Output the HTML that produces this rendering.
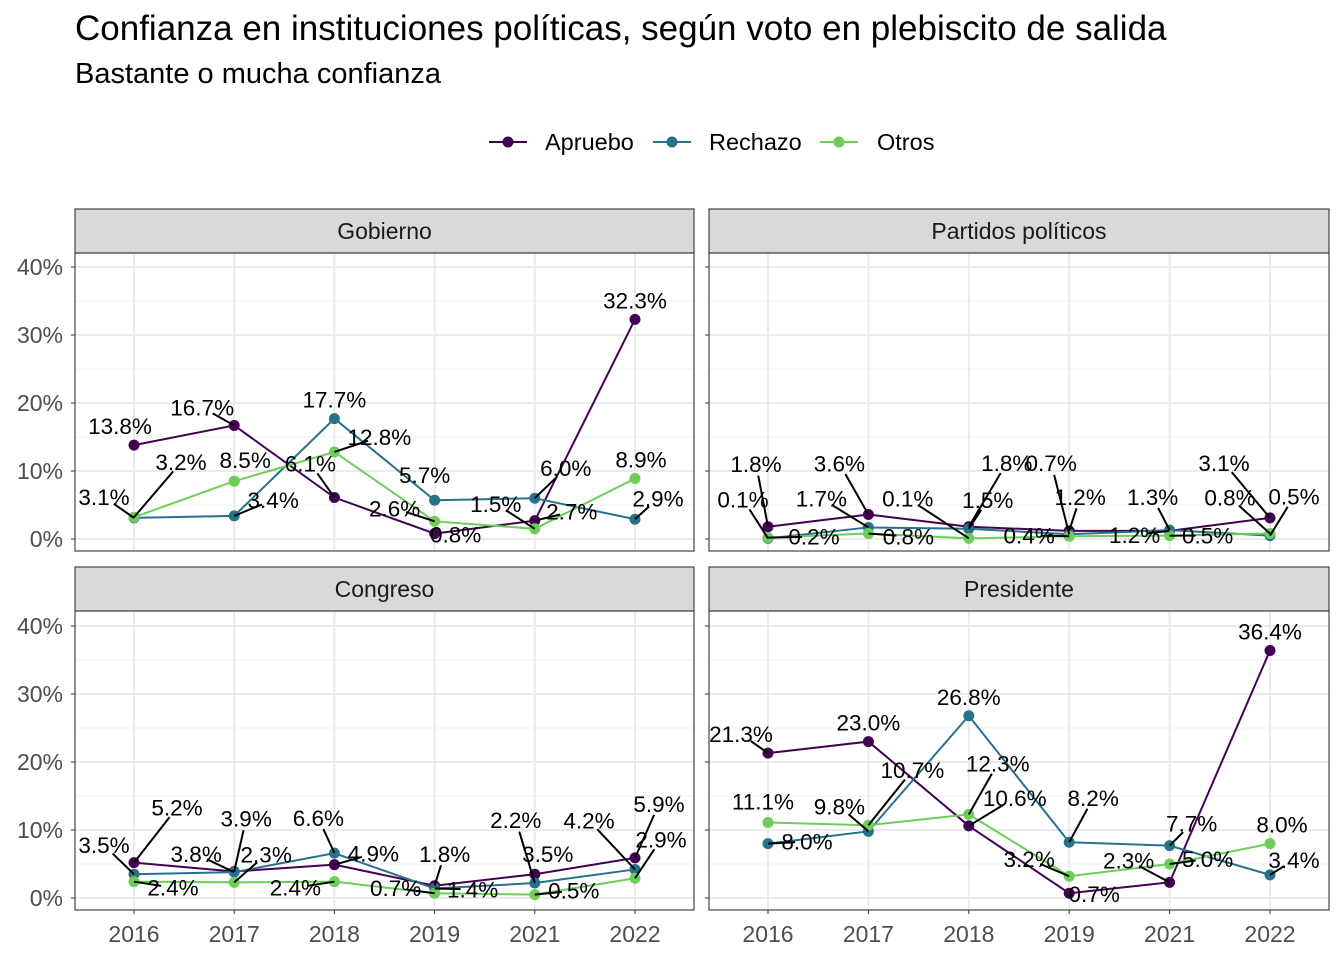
<!DOCTYPE html>
<html><head><meta charset="utf-8"><style>
body{margin:0;background:#fff;}
svg text{font-family:"Liberation Sans",Arial,sans-serif;}
</style></head><body>
<svg id="c" width="1344" height="960" xmlns="http://www.w3.org/2000/svg">
<text x="75" y="40" font-size="35" fill="#000">Confianza en instituciones políticas, según voto en plebiscito de salida</text>
<text x="75" y="83" font-size="29" fill="#000">Bastante o mucha confianza</text>
<g>
<g><line x1="489" y1="142" x2="527" y2="142" stroke="#440154" stroke-width="2"/><circle cx="508" cy="142" r="5.5" fill="#440154"/><text x="545" y="150" font-size="23.5">Apruebo</text></g>
<g><line x1="653" y1="142" x2="691" y2="142" stroke="#27728a" stroke-width="2"/><circle cx="672" cy="142" r="5.5" fill="#27728a"/><text x="709" y="150" font-size="23.5">Rechazo</text></g>
<g><line x1="820" y1="142" x2="858" y2="142" stroke="#6cce59" stroke-width="2"/><circle cx="839" cy="142" r="5.5" fill="#6cce59"/><text x="877" y="150" font-size="23.5">Otros</text></g>
</g>
</svg>
<script>
const years=['2016','2017','2018','2019','2021','2022'];
const yTicks=[0,10,20,30,40];
const panelNames=['Gobierno','Partidos políticos','Congreso','Presidente'];
const seriesNames=['Apruebo','Rechazo','Otros'];
const gobApruebo=[13.8,16.7,6.1,0.8,2.7,32.3];
const gobRechazo=[3.1,3.4,17.7,5.7,6.0,2.9];
const gobOtros=[3.2,8.5,12.8,2.6,1.5,8.9];
const parApruebo=[1.8,3.6,1.8,1.2,1.2,3.1];
const parRechazo=[0.1,1.7,1.5,0.7,1.3,0.5];
const parOtros=[0.2,0.8,0.1,0.4,0.5,0.8];
const conApruebo=[5.2,3.9,4.9,1.8,3.5,5.9];
const conRechazo=[3.5,3.8,6.6,1.4,2.2,4.2];
const conOtros=[2.4,2.3,2.4,0.7,0.5,2.9];
const preApruebo=[21.3,23.0,10.6,0.7,2.3,36.4];
const preRechazo=[8.0,9.8,26.8,8.2,7.7,3.4];
const preOtros=[11.1,10.7,12.3,3.2,5.0,8.0];

const data=[[gobApruebo,gobRechazo,gobOtros],[parApruebo,parRechazo,parOtros],[conApruebo,conRechazo,conOtros],[preApruebo,preRechazo,preOtros]];
const colors=['#440154','#27728a','#6cce59'];
const offs=[
[[[-14,-19],[-32,-18],[-24,-34],[21,1],[37,-9],[0,-19]],
 [[-30,-21],[39,-16],[0,-19],[-10,-25],[31,-30],[23,-21]],
 [[47,-55],[11,-21],[45,-15],[-40,-13],[-39,-25],[6,-19]]],
[[[-12,-63],[-29,-51],[38,-64],[11,-34],[-35,4],[-46,-55]],
 [[-25,-39],[-47,-29],[19,-29],[-18,-71],[-17,-33],[24,-39]],
 [[46,-1],[40,3],[-61,-40],[-40,-1],[38,0],[-40,-36]]],
[[[43,-55],[12,-53],[39,-11],[10,-32],[13,-20],[24,-54]],
 [[-30,-29],[-38,-18],[-16,-35],[38,1],[-19,-63],[-46,-49]],
 [[39,6],[32,-28],[-39,6],[-39,-5],[39,-4],[26,-39]]],
[[[-27,-19],[0,-19],[46,-28],[25,1],[-41,-22],[0,-19]],
 [[39,-2],[-29,-25],[0,-19],[24,-44],[22,-22],[24,-15]],
 [[-5,-21],[44,-55],[29,-51],[-40,-17],[38,-5],[12,-19]]]
];
const panels=[{x0:75,x1:694,sy:209,py0:253,py1:551},{x0:709,x1:1329,sy:209,py0:253,py1:551},
{x0:75,x1:694,sy:567,py0:611,py1:910},{x0:709,x1:1329,sy:567,py0:611,py1:910}];
const svg=document.getElementById('c');
const NS='http://www.w3.org/2000/svg';
function mk(t,a,p){const e=document.createElementNS(NS,t);for(const k in a)e.setAttribute(k,a[k]);(p||svg).appendChild(e);return e;}
panels.forEach((p,pi)=>{
 const g=mk('g',{});
 
 
 const xs=i=>p.x0+59+i*(p.x1-p.x0-118)/(years.length-1);
 const ys=v=>p.py1-12-v*6.8;
 const st=mk('rect',{x:p.x0,y:p.sy,width:p.x1-p.x0,height:p.py0-p.sy,fill:'#d9d9d9',stroke:'#333','stroke-width':1.1},g);
 
 
 const stt=mk('text',{x:(p.x0+p.x1)/2,y:(p.sy+p.py0)/2+8,'font-size':23,fill:'#1a1a1a','text-anchor':'middle'},g);
 stt.textContent=panelNames[pi];
 
 
 for(let v=5;v<=35;v+=10)mk('line',{x1:p.x0,x2:p.x1,y1:ys(v),y2:ys(v),stroke:'#f2f2f2','stroke-width':1},g);
 yTicks.forEach(v=>{mk('line',{x1:p.x0,x2:p.x1,y1:ys(v),y2:ys(v),stroke:'#ebebeb','stroke-width':2},g);
  mk('line',{x1:p.x0-4,x2:p.x0,y1:ys(v),y2:ys(v),stroke:'#333','stroke-width':1},g);
  if(p.x0<100){const t=mk('text',{x:p.x0-12,y:ys(v)+8,'font-size':23,fill:'#4d4d4d','text-anchor':'end'},g);t.textContent=v+'%';
  
  }
 });
 years.forEach((y,i)=>{mk('line',{x1:xs(i),x2:xs(i),y1:p.py0,y2:p.py1,stroke:'#ebebeb','stroke-width':2},g);
  if(pi>=2){mk('line',{x1:xs(i),x2:xs(i),y1:p.py1,y2:p.py1+4,stroke:'#333'},g);
  const t=mk('text',{x:xs(i),y:p.py1+32,'font-size':23,fill:'#4d4d4d','text-anchor':'middle'},g);t.textContent=y;
  
  }
 });
 data[pi].forEach((arr,si)=>{
  const sg=mk('g',{},g);
  
  
  mk('polyline',{points:arr.map((v,i)=>xs(i)+','+ys(v)).join(' '),fill:'none',stroke:colors[si],'stroke-width':2},sg);
  arr.forEach((v,i)=>{const c=mk('circle',{cx:xs(i),cy:ys(v),r:5.5,fill:colors[si]},sg);
   
   });
 });
 data[pi].forEach((arr,si)=>{
  arr.forEach((v,i)=>{
   const [dx,dy]=offs[pi][si][i];const px=xs(i),py=ys(v);
   const d=Math.hypot(dx,dy);
   if(d>28){const f=(d-12)/d;mk('line',{x1:px,y1:py,x2:px+dx*f,y2:py+dy*f,stroke:'#000','stroke-width':2},g);}
   const t=mk('text',{x:px+dx,y:py+dy+8,'font-size':22.5,fill:'#000','text-anchor':'middle'},g);
   t.textContent=v.toFixed(1)+'%';
   
   
  });
 });
 mk('rect',{x:p.x0,y:p.py0,width:p.x1-p.x0,height:p.py1-p.py0,fill:'none',stroke:'#333','stroke-width':1.1},g);
});
</script>
</body></html>
